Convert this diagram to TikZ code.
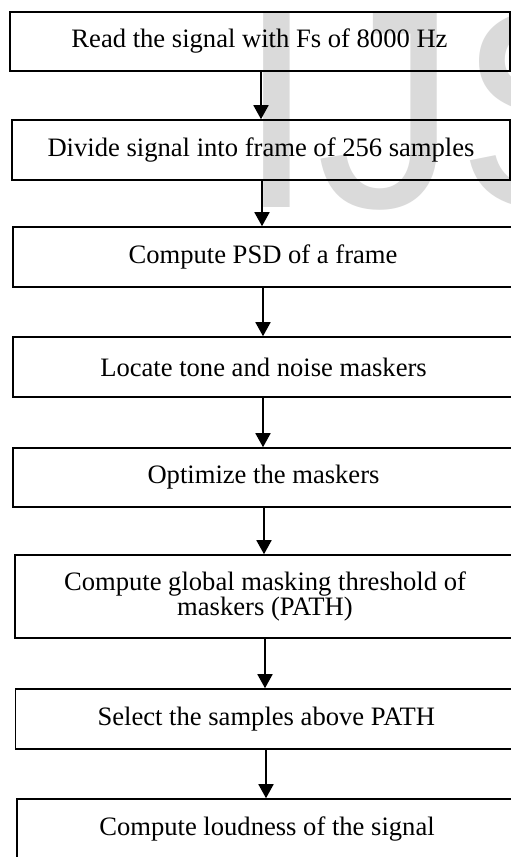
\documentclass[tikz,border=0pt]{standalone}
\usepackage{fontspec}
\setmainfont{Liberation Serif}
\newfontfamily\wmfont{Liberation Sans}
\usetikzlibrary{arrows.meta}
\definecolor{wm}{RGB}{218,218,218}
\tikzset{
  box/.style={draw, line width=1.6pt, inner sep=0pt, align=center,
    font=\fontsize{26.6}{23.5}\selectfont},
  arr/.style={line width=1.7pt, -{Triangle[width=15pt,length=14pt]}},
}
\begin{document}
\begin{tikzpicture}[x=1pt,y=-1pt]
\useasboundingbox (0,0) rectangle (511,857);
\clip (0,0) rectangle (511,857);
\fill[white] (0,0) rectangle (511,857);
\node[anchor=base west, inner sep=0pt, text=wm,
  font=\wmfont\fontsize{283.5}{283.5}\selectfont] (wmark) at (237,207) {IJS};

\node[box, line width=2pt, minimum width=500pt, minimum height=59pt] (b1) at (259.5,41) {Read the signal with Fs of 8000 Hz};
\node[box, minimum width=498pt, minimum height=60pt] (b2) at (261,150) {Divide signal into frame of 256 samples};
\node[box, minimum width=500pt, minimum height=60pt] (b3) at (263,257) {Compute PSD of a frame};
\node[box, minimum width=501pt, minimum height=60pt] (b4) at (263.5,367) {Locate tone and noise maskers};
\node[box, minimum width=501pt, minimum height=59pt] (b5) at (263.5,477.5) {Optimize the maskers};
\node[box, minimum width=500pt, minimum height=83pt] (b6) at (265,596.5) {Compute global masking threshold of\\maskers (PATH)};
\node[box, minimum width=501.5pt, minimum height=60pt] (b7) at (266.25,719) {Select the samples above PATH};
\node[box, minimum width=500pt, minimum height=60pt] (b8) at (267,829) {Compute loudness of the signal};

\draw[arr] (b1.south -| 261,0) -- (b2.north -| 261,0);
\draw[arr] (b2.south -| 262,0) -- (b3.north -| 262,0);
\draw[arr] (b3.south -| 263,0) -- (b4.north -| 263,0);
\draw[arr] (b4.south -| 263,0) -- (b5.north -| 263,0);
\draw[arr] (b5.south -| 264,0) -- (b6.north -| 264,0);
\draw[arr] (b6.south -| 265,0) -- (b7.north -| 265,0);
\draw[arr] (b7.south -| 266,0) -- (b8.north -| 266,0);
\end{tikzpicture}
\end{document}
